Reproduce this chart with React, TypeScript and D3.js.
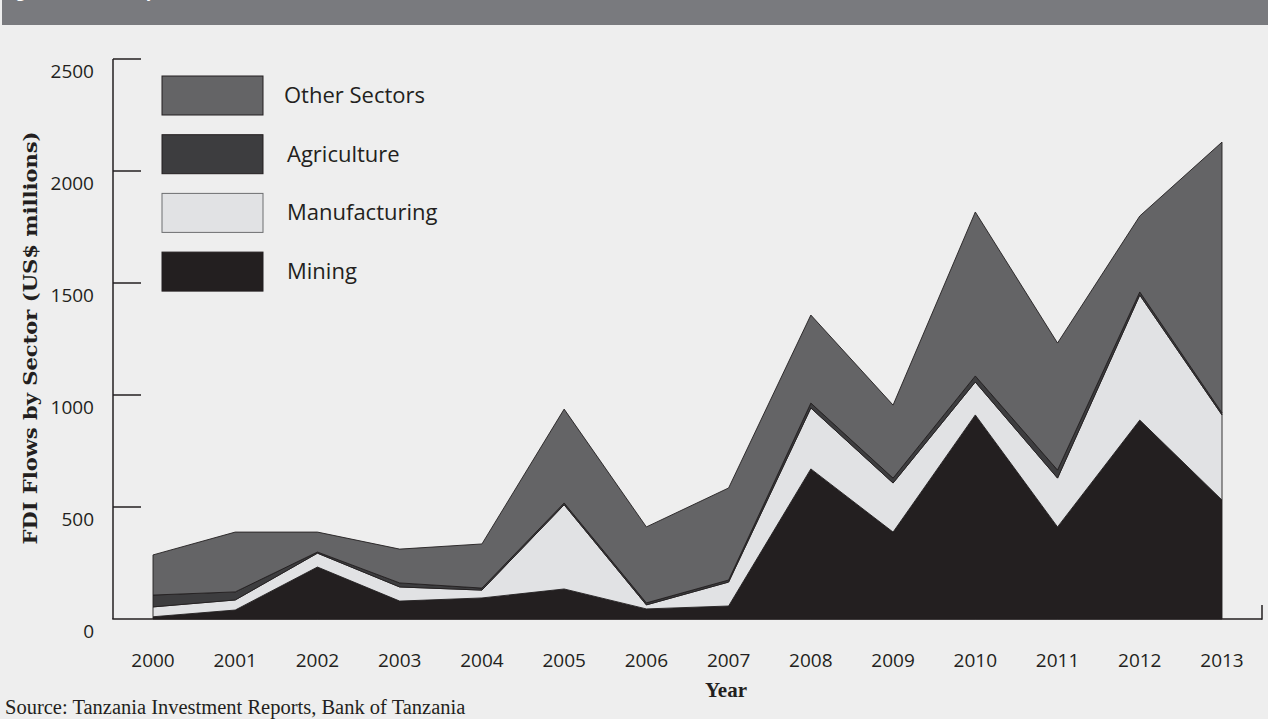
import React from "react";
import * as d3 from "d3";

const years = [2000, 2001, 2002, 2003, 2004, 2005, 2006, 2007, 2008, 2009, 2010, 2011, 2012, 2013];
const mining = [10, 40, 232, 80, 94, 134, 45, 58, 670, 388, 911, 411, 888, 531];
const manufacturing = [44, 45, 62, 63, 35, 376, 18, 107, 272, 219, 147, 218, 558, 380];
const agriculture = [53, 36, 5, 18, 9, 8, 9, 9, 22, 22, 27, 36, 14, 9];
const otherSectors = [179, 267, 89, 151, 197, 419, 339, 411, 393, 326, 732, 567, 339, 1209];
const yTicks = [0, 500, 1000, 1500, 2000, 2500];

const seriesKeys = ["mining", "manufacturing", "agriculture", "other"];
const seriesColors: Record<string, string> = {
  mining: "#231f20",
  manufacturing: "#e1e2e4",
  agriculture: "#3d3d3f",
  other: "#646466",
};
const legendItems = [
  { key: "other", label: "Other Sectors" },
  { key: "agriculture", label: "Agriculture" },
  { key: "manufacturing", label: "Manufacturing" },
  { key: "mining", label: "Mining" },
];

const W = 1268;
const H = 719;
const sans = "'Open Sans', 'Noto Sans', sans-serif";
const serif = "'Liberation Serif', 'DejaVu Serif', serif";
const wideSerif = "'DejaVu Serif', 'Liberation Serif', serif";
const ink = "#231f20";

export default function App() {
  const rows = years.map((y, i) => ({
    year: y,
    mining: mining[i],
    manufacturing: manufacturing[i],
    agriculture: agriculture[i],
    other: otherSectors[i],
  }));
  const stacked = d3.stack<any>().keys(seriesKeys)(rows);

  const x = d3.scaleLinear().domain([2000, 2013]).range([153, 1222]);
  const y = d3.scaleLinear().domain([0, 2500]).range([619, 59]);
  const area = d3
    .area<any>()
    .x((d) => x(d.data.year))
    .y0((d) => y(d[0]))
    .y1((d) => y(d[1]));

  return (
    <svg
      width={W}
      height={H}
      style={{ position: "absolute", left: 0, top: 0, display: "block" }}
    >
      <rect x={0} y={0} width={W} height={H} fill="#eeeeee" />
      <rect x={2} y={0} width={W - 2} height={25} fill="#797a7e" />
      <text
        x={5}
        y={-3}
        fill="#ffffff"
        fontFamily={sans}
        fontSize={16}
        textLength={380}
      >
        Figure 4: FDI Flows by Sector, 2000–2013 (US$ millions)
      </text>

      {/* areas */}
      {stacked.map((s) => (
        <path
          key={s.key}
          d={area(s) || ""}
          fill={seriesColors[s.key]}
          stroke={ink}
          strokeWidth={0.9}
          strokeLinejoin="miter"
        />
      ))}

      {/* y axis */}
      <line x1={113} x2={113} y1={y(2500)} y2={y(0)} stroke={ink} strokeWidth={1.5} />
      {yTicks.map((t) => (
        <g key={t}>
          {t > 0 && (
            <line x1={113} x2={141} y1={y(t)} y2={y(t)} stroke={ink} strokeWidth={1.5} />
          )}
          <text
            x={94}
            y={y(t) + 19}
            textAnchor="end"
            fontFamily={sans}
            fontSize={19}
            fill={ink}
          >
            {t}
          </text>
        </g>
      ))}

      {/* x axis */}
      <line x1={112.25} x2={1262} y1={y(0)} y2={y(0)} stroke={ink} strokeWidth={1.5} />
      <line x1={1262} x2={1262} y1={y(0) + 0.75} y2={y(0) - 14} stroke={ink} strokeWidth={1.5} />
      {years.map((yr) => (
        <text
          key={yr}
          x={x(yr)}
          y={667}
          textAnchor="middle"
          fontFamily={sans}
          fontSize={19}
          fill={ink}
        >
          {yr}
        </text>
      ))}

      {/* legend */}
      {legendItems.map((it, i) => (
        <g key={it.key}>
          <rect
            x={162}
            y={76 + i * 58.7}
            width={101}
            height={39}
            fill={seriesColors[it.key]}
            stroke={it.key === "manufacturing" ? "#6d6e70" : ink}
            strokeWidth={1}
          />
          <text
            x={i === 0 ? 284 : 287}
            y={76 + i * 58.7 + 27}
            fontFamily={sans}
            fontSize={22}
            fill={ink}
          >
            {it.label}
          </text>
        </g>
      ))}

      {/* axis titles */}
      <text
        transform="translate(37,338) rotate(-90)"
        textAnchor="middle"
        fontFamily={wideSerif}
        fontWeight="bold"
        fontSize={18}
        textLength={413}
        lengthAdjust="spacingAndGlyphs"
        fill={ink}
      >
        FDI Flows by Sector (US$ millions)
      </text>
      <text
        x={726}
        y={697}
        textAnchor="middle"
        fontFamily={serif}
        fontWeight="bold"
        fontSize={21}
        fill={ink}
      >
        Year
      </text>
      <text x={5} y={714} fontFamily={serif} fontSize={20.5} fill={ink}>
        Source: Tanzania Investment Reports, Bank of Tanzania
      </text>
    </svg>
  );
}
